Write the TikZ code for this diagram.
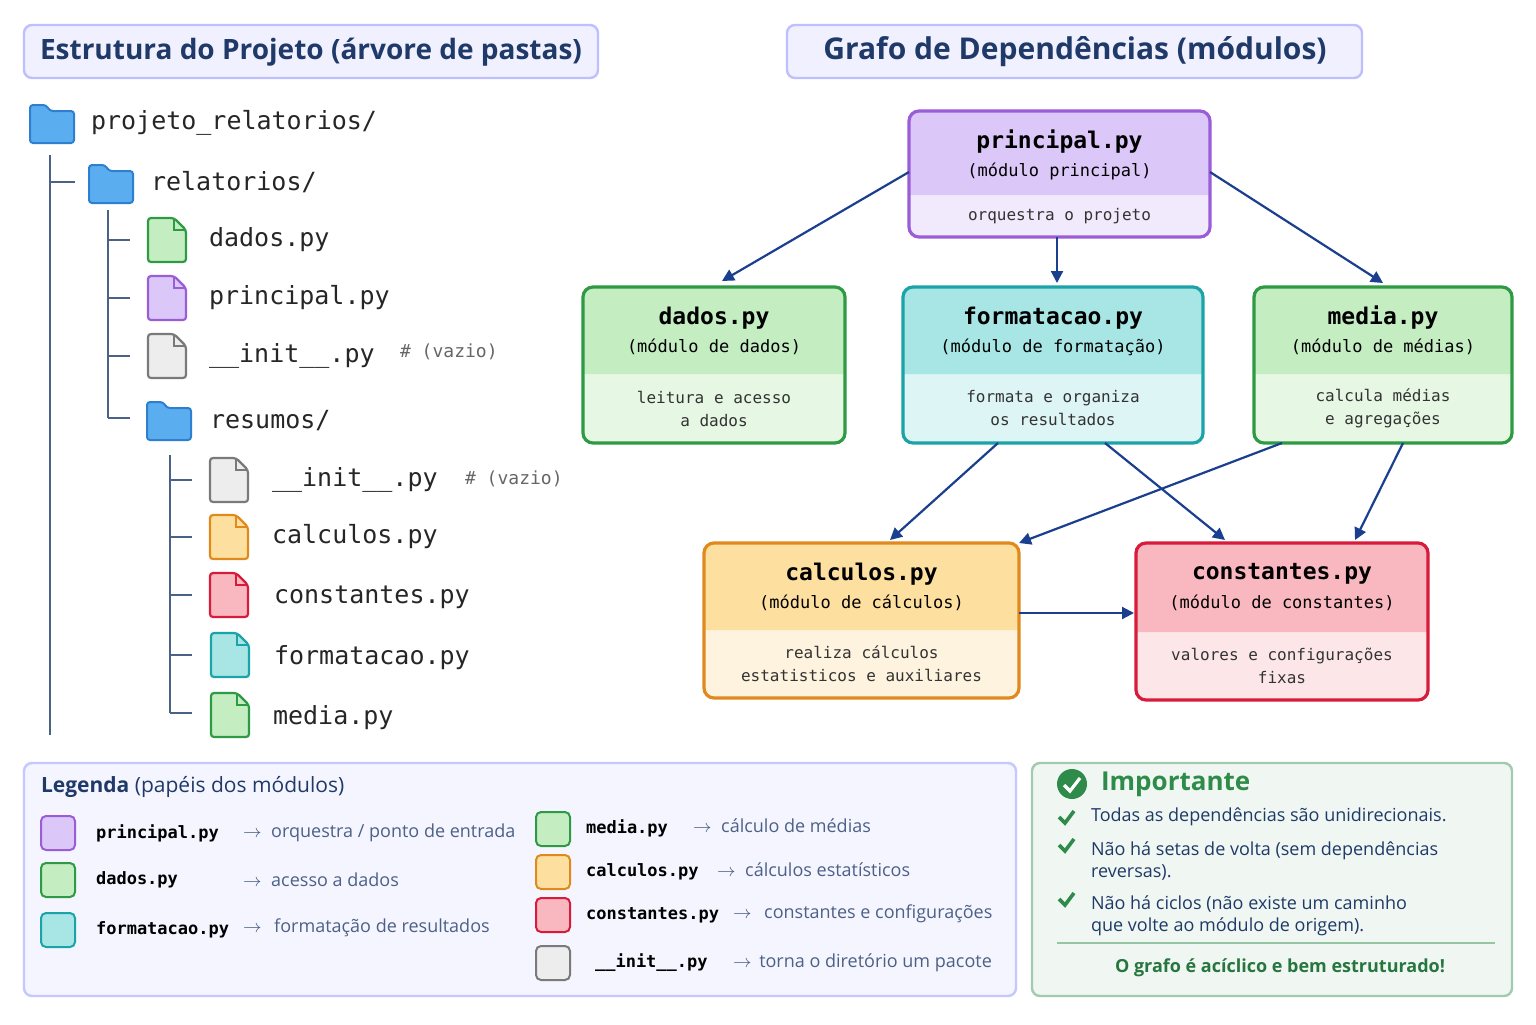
\documentclass[tikz,border=0pt]{standalone}
\usepackage{fontspec}
\setmainfont{Open Sans}
\setmonofont{DejaVu Sans Mono}
\usetikzlibrary{calc,arrows.meta}

\definecolor{navy}{HTML}{1F3A68}
\definecolor{arrowc}{HTML}{1A3F8F}
\definecolor{purB}{HTML}{9B5CD8}\definecolor{purH}{HTML}{DCC8F8}\definecolor{purF}{HTML}{F1E9FC}
\definecolor{grnB}{HTML}{2E9A44}\definecolor{grnH}{HTML}{C4EDC2}\definecolor{grnF}{HTML}{E6F7E4}
\definecolor{teaB}{HTML}{1BA3A8}\definecolor{teaH}{HTML}{A8E6E6}\definecolor{teaF}{HTML}{DDF5F5}
\definecolor{oraB}{HTML}{E08A1E}\definecolor{oraH}{HTML}{FDE0A0}\definecolor{oraF}{HTML}{FEF3DE}
\definecolor{redB}{HTML}{D81B3A}\definecolor{redH}{HTML}{F9B8C0}\definecolor{redF}{HTML}{FDE6E8}
\definecolor{gryB}{HTML}{7A7A7A}\definecolor{gryH}{HTML}{EDEDED}
\definecolor{fldB}{HTML}{2F7FD0}\definecolor{fldF}{HTML}{5AAEF0}
\definecolor{okc}{HTML}{2E8B4A}

\tikzset{
  title box/.style = {draw=blue!25, fill=blue!6, line width=1.2pt, rounded corners=4pt},
  tree line/.style = {draw=navy!80, line width=1.1pt},
  tree text/.style = {anchor=west, font=\ttfamily\fontsize{12.5}{14}\selectfont, text=black!85},
  note text/.style = {anchor=west, font=\ttfamily\fontsize{9}{11}\selectfont, text=black!60},
  dep/.style = {-{Triangle[length=6pt,width=6pt]}, draw=arrowc, line width=1.1pt},
  leg name/.style = {anchor=west, font=\ttfamily\bfseries\fontsize{8.5}{10}\selectfont},
  leg text/.style = {anchor=west, font=\fontsize{9}{11}\selectfont, text=navy!80},
  swatch/.style = {draw=#1B, fill=#1H, line width=1pt, rounded corners=2.5pt, minimum size=17pt, inner sep=0pt},
  ok text/.style = {anchor=west, align=left, font=\fontsize{9}{11}\selectfont, text=navy},
}

% folder icon and file icon
\newcommand\folder[1]{\begin{scope}[shift={#1}]
  \draw[fill=fldF, draw=fldB, line width=1pt, rounded corners=1.5pt]
    (0,0) -- (0,38) -- (44,38) -- (44,6) -- (20,6) -- (16,0) -- cycle;
\end{scope}}
\newcommand\pyfile[2]{\begin{scope}[shift={#1}]
  \draw[fill=#2H, draw=#2B, line width=1.1pt, rounded corners=1.5pt]
    (0,0) -- (0,44) -- (38,44) -- (38,12) -- (26,0) -- cycle;
  \draw[draw=#2B, line width=1.1pt] (26,0) -- (26,12) -- (38,12);
\end{scope}}

% module box: name, corner1, corner2, header height, colour, title, subtitle, description
\newcommand\modbox[8]{
  \path[fill=#5F, rounded corners=5pt] #2 rectangle #3;
  \path let \p1=#2, \p2=#3 in
    coordinate (#1-nw) at (\x1,\y1) coordinate (#1-se) at (\x2,\y2);
  \fill[#5H] ($(#1-nw)+(0,#4)$) [rounded corners=5pt] -- (#1-nw) -- (#1-nw -| #1-se) [sharp corners] -- ($(#1-nw -| #1-se)+(0,#4)$) -- cycle;
  \draw[draw=#5B, line width=1.6pt, rounded corners=5pt] #2 rectangle #3;
  \node[inner sep=0pt, minimum width=1pt] (#1) at ($(#1-nw)!0.5!(#1-se)$) {};
  \node[font=\ttfamily\bfseries\fontsize{11.5}{13}\selectfont] at ($(#1-nw -| #1)+(0,31)$) {#6};
  \node[font=\ttfamily\fontsize{8.5}{10}\selectfont] at ($(#1-nw -| #1)+(0,60)$) {#7};
  \node[font=\ttfamily\fontsize{8}{11.5}\selectfont, align=center, text=black!80]
    at ($($(#1-nw -| #1)+(0,#4)$)!0.5!(#1-se -| #1)$) {#8};
}

\begin{document}
\begin{tikzpicture}[x=0.5pt, y=-0.5pt]
\useasboundingbox[fill=white] (0,0) rectangle (1536,1024);

% titles
\draw[title box] (24,25) rectangle (598,78);
\node[font=\fontsize{14}{16}\selectfont, text=navy] (t1) at (311,52)
  {\textbf{Estrutura do Projeto (árvore de pastas)}};
\draw[title box] (787,25) rectangle (1362,78);
\node[font=\bfseries\fontsize{15}{17}\selectfont, text=navy] (t2) at (1075,52)
  {Grafo de Dependências (módulos)};

% folder tree
\draw[tree line] (50,155) -- (50,735);
\draw[tree line] (50,182) -- (75,182);
\draw[tree line] (108,210) -- (108,418);
\foreach \yy in {240,298,356,418} \draw[tree line] (108,\yy) -- (130,\yy);
\draw[tree line] (170,455) -- (170,713);
\foreach \yy in {480,537,595,655,713} \draw[tree line] (170,\yy) -- (192,\yy);

\folder{(30,105)}  \node[tree text] (root) at (84,123) {projeto\_relatorios/};
\folder{(89,165)}  \node[tree text] (rel) at (144,182) {relatorios/};
\pyfile{(148,218)}{grn} \node[tree text] (fdados) at (202,240) {dados.py};
\pyfile{(148,276)}{pur} \node[tree text] (fprin) at (202,298) {principal.py};
\pyfile{(148,334)}{gry} \node[tree text] (finit1) at (202,356) {\_\_init\_\_.py};
\node[note text] (n1) at (393,352) {\# (vazio)};
\folder{(147,402)} \node[tree text] (res) at (203,421) {resumos/};
\pyfile{(210,458)}{gry} \node[tree text] (finit2) at (265,480) {\_\_init\_\_.py};
\node[note text] (n2) at (458,479) {\# (vazio)};
\pyfile{(210,515)}{ora} \node[tree text] (fcalc) at (265,537) {calculos.py};
\pyfile{(210,573)}{red} \node[tree text] (fconst) at (267,597) {constantes.py};
\pyfile{(211,633)}{tea} \node[tree text] (ffmt) at (267,658) {formatacao.py};
\pyfile{(211,693)}{grn} \node[tree text] (fmed) at (266,718) {media.py};

% dependency graph
\modbox{prin}{(909,111)}{(1210,237)}{84}{pur}{principal.py}{(módulo principal)}{orquestra o projeto}
\modbox{dad}{(583,287)}{(845,443)}{87}{grn}{dados.py}{(módulo de dados)}{leitura e acesso\\a dados}
\modbox{fmt}{(903,287)}{(1203,443)}{87}{tea}{formatacao.py}{(módulo de formatação)}{formata e organiza\\os resultados}
\modbox{med}{(1254,287)}{(1512,443)}{87}{grn}{media.py}{(módulo de médias)}{calcula médias\\e agregações}
\modbox{calc}{(704,543)}{(1019,698)}{87}{ora}{calculos.py}{(módulo de cálculos)}{realiza cálculos\\estatisticos e auxiliares}
\modbox{cons}{(1136,543)}{(1428,700)}{89}{red}{constantes.py}{(módulo de constantes)}{valores e configurações\\fixas}

\draw[dep] (909,172) -- (722,281);
\draw[dep] (1057,237) -- (1057,283);
\draw[dep] (1210,172) -- (1383,283);
\draw[dep] (998,443) -- (890,540);
\draw[dep] (1105,443) -- (1225,540);
\draw[dep] (1282,443) -- (1019,543);
\draw[dep] (1403,443) -- (1355,540);
\draw[dep] (1019,613) -- (1134,613);

% legend
\draw[draw=blue!22, fill=blue!4, line width=1.2pt, rounded corners=4pt] (24,763) rectangle (1016,996);
\node[anchor=west, font=\fontsize{10.5}{12}\selectfont, text=navy] (legt) at (34,787)
  {\textbf{Legenda} (papéis dos módulos)};
\node[swatch=pur] (s1) at (58,833) {};  \node[leg name] at (89,833) {principal.py};
\node[leg text] at (236,833) {$\rightarrow$\; orquestra / ponto de entrada};
\node[swatch=grn] (s2) at (58,880) {};  \node[leg name] at (89,880) {dados.py};
\node[leg text] at (236,880) {$\rightarrow$\; acesso a dados};
\node[swatch=tea] (s3) at (58,930) {};  \node[leg name] at (89,930) {formatacao.py};
\node[leg text] at (236,928) {$\rightarrow$\;\, formatação de resultados};
\node[swatch=grn] (s4) at (553,829) {}; \node[leg name] at (579,828) {media.py};
\node[leg text] at (686,826) {$\rightarrow$\; cálculo de médias};
\node[swatch=ora] (s5) at (553,872) {}; \node[leg name] at (579,872) {calculos.py};
\node[leg text] at (710,870) {$\rightarrow$\; cálculos estatísticos};
\node[swatch=red] (s6) at (553,915) {}; \node[leg name] at (579,915) {constantes.py};
\node[leg text] at (726,914) {$\rightarrow$\;\, constantes e configurações};
\node[swatch=gry] (s7) at (553,963) {}; \node[leg name] at (588,963) {\_\_init\_\_.py};
\node[leg text] at (726,963) {$\rightarrow$\, torna o diretório um pacote};

% important box
\draw[draw=okc!45, fill=okc!7, line width=1.2pt, rounded corners=4pt] (1032,763) rectangle (1512,996);
\node[circle, fill=okc, inner sep=0pt, minimum size=15pt] (chk) at (1072,784) {};
\draw[white, line width=1.6pt] (1064,785) -- (1070,791) -- (1080,778);
\node[anchor=west, font=\bfseries\fontsize{13}{15}\selectfont, text=okc] (imp) at (1094,784) {Importante};
\foreach \yy in {817,845,899}
  \draw[okc, line width=1.8pt] (1059,\yy) -- (1065,\yy+6) -- (1074,\yy-6);
\node[ok text] (ok1) at (1084,817) {Todas as dependências são unidirecionais.};
\node[ok text, anchor=north west] (ok2) at (1084,835) {Não há setas de volta (sem dependências\\reversas).};
\node[ok text, anchor=north west] (ok3) at (1084,889) {Não há ciclos (não existe um caminho\\que volte ao módulo de origem).};
\draw[okc!50, line width=0.8pt] (1057,943) -- (1495,943);
\node[font=\bfseries\fontsize{9}{11}\selectfont, text=okc!85!black] (fin) at (1280,968)
  {O grafo é acíclico e bem estruturado!};
\end{tikzpicture}
\end{document}
